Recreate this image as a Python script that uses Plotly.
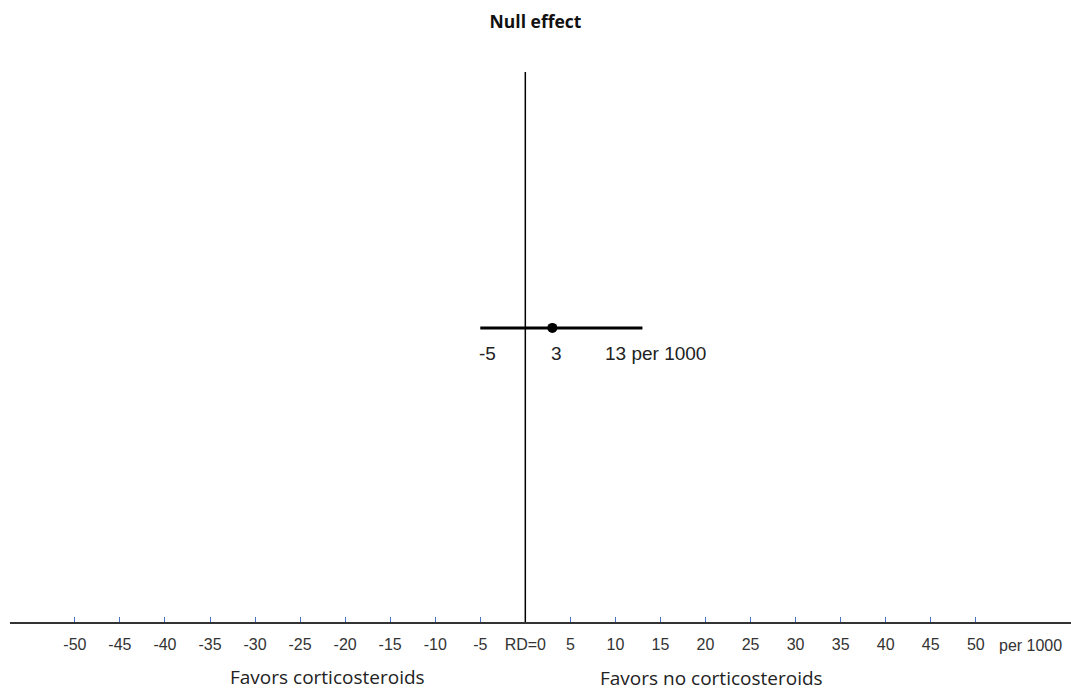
import plotly.graph_objects as go

# Data
tick_values = [-50, -45, -40, -35, -30, -25, -20, -15, -10, -5, 0, 5, 10, 15, 20, 25, 30, 35, 40, 45, 50]
tick_labels = ["-50", "-45", "-40", "-35", "-30", "-25", "-20", "-15", "-10", "-5", "RD=0",
               "5", "10", "15", "20", "25", "30", "35", "40", "45", "50"]
estimate = 3
ci_low = -5
ci_high = 13
unit_label = "per 1000"
row_y = 1

fig = go.Figure()

# null effect line
fig.add_shape(type="line", xref="x", yref="paper", x0=0, x1=0, y0=0, y1=1,
              line=dict(color="black", width=1.5))

# CI line
fig.add_trace(go.Scatter(x=[ci_low, ci_high], y=[row_y, row_y], mode="lines",
                         line=dict(color="black", width=3), showlegend=False, hoverinfo="skip"))
# point estimate
fig.add_trace(go.Scatter(x=[estimate], y=[row_y], mode="markers",
                         marker=dict(color="black", size=10), showlegend=False))

lab_font = dict(family="Liberation Sans, Arial, sans-serif", size=19, color="#222")
fig.add_annotation(x=ci_low, y=row_y, text=str(ci_low), showarrow=False, xanchor="left",
                   yanchor="middle", yshift=-26, xshift=-3, font=lab_font)
fig.add_annotation(x=estimate, y=row_y, text=str(estimate), showarrow=False, xanchor="center",
                   yanchor="middle", yshift=-26, xshift=4, font=lab_font)
fig.add_annotation(x=ci_high, y=row_y, text=f"{ci_high} {unit_label}", showarrow=False, xanchor="left",
                   yanchor="middle", yshift=-26, xshift=-39, font=lab_font)

tick_font = dict(family="Liberation Sans, Arial, sans-serif", size=16, color="#333")
# "per 1000" after the 50 tick
fig.add_annotation(x=tick_values[-1], y=0, yref="y", text=unit_label, showarrow=False,
                   xanchor="left", yanchor="middle", xshift=21, yshift=-23, font=tick_font)

side_font = dict(family="Open Sans, sans-serif", size=19, color="#222")
fig.add_annotation(x=-22, y=-0.1, yref="paper", text="Favors corticosteroids", showarrow=False,
                   xanchor="center", yanchor="middle", font=side_font)
fig.add_annotation(x=20.7, y=-0.102, yref="paper", text="Favors no corticosteroids", showarrow=False,
                   xanchor="center", yanchor="middle", font=side_font)

fig.update_layout(
    width=1071, height=690,
    margin=dict(l=10, r=0, t=72, b=68),
    paper_bgcolor="white", plot_bgcolor="white",
    title=dict(text="<b>Null effect</b>", x=0.5, xanchor="center", y=0.968, yanchor="middle",
               font=dict(family="Open Sans, sans-serif", size=17.5, color="#111")),
    xaxis=dict(range=[-57.2, 60.57], tickvals=tick_values, ticktext=tick_labels,
               showgrid=False, zeroline=False, showline=True, linecolor="#333", linewidth=1.5,
               ticks="inside", ticklen=5, tickcolor="#4472C4", tickwidth=1,
               ticklabelstandoff=7,
               tickfont=tick_font,
               fixedrange=True),
    yaxis=dict(range=[0, 1.87], visible=False, fixedrange=True),
    showlegend=False,
)

fig.write_html("out.html", config={"displayModeBar": False},
               post_script="document.body.style.margin='0';")
